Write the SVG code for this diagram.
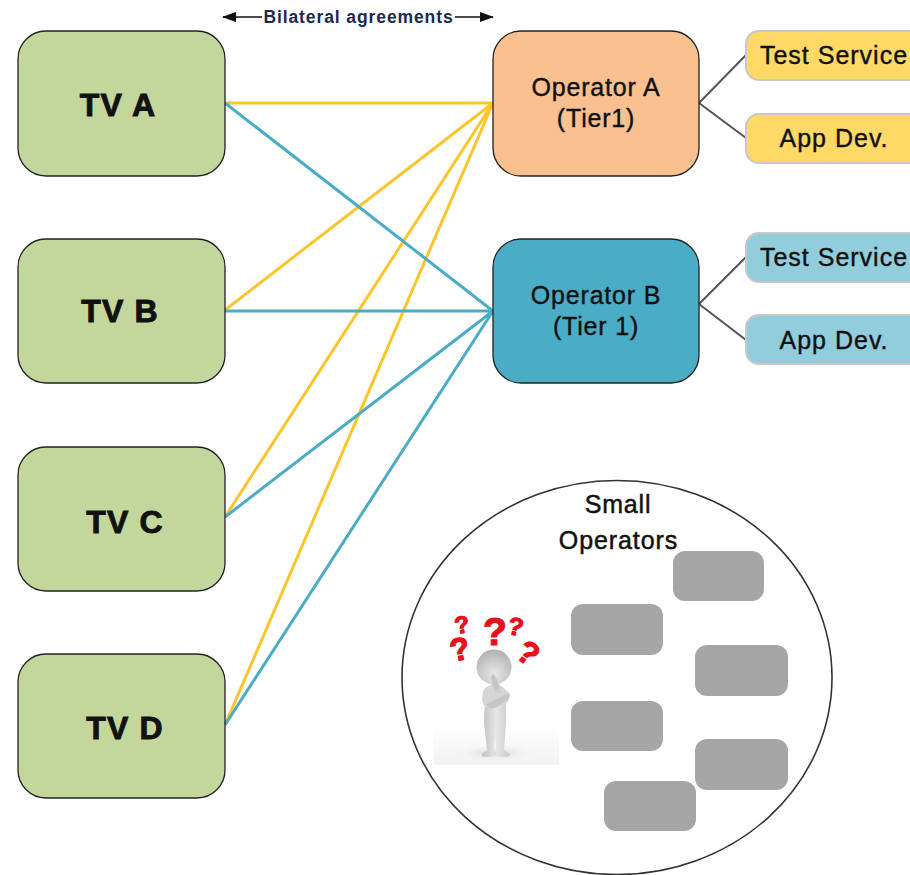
<svg xmlns="http://www.w3.org/2000/svg" width="910" height="875" viewBox="0 0 910 875">
<defs>
<marker id="ah" markerWidth="14" markerHeight="10" refX="13" refY="5" orient="auto" markerUnits="userSpaceOnUse"><path d="M0 0L14 5L0 10Z" fill="#111"/></marker>
<linearGradient id="floor" x1="0" y1="0" x2="0" y2="1"><stop offset="0" stop-color="#fff"/><stop offset="0.7" stop-color="#f6f6f6"/><stop offset="1" stop-color="#f2f2f2"/></linearGradient>
<radialGradient id="head" cx="0.5" cy="0.7" r="0.7"><stop offset="0" stop-color="#eaeaea"/><stop offset="1" stop-color="#b0b0b0"/></radialGradient>
<linearGradient id="body" x1="0" y1="0" x2="1" y2="0"><stop offset="0" stop-color="#c0c0c0"/><stop offset="0.5" stop-color="#e6e6e6"/><stop offset="1" stop-color="#c8c8c8"/></linearGradient>
<radialGradient id="shadow"><stop offset="0" stop-color="#d8d8d8"/><stop offset="1" stop-color="#f4f4f4" stop-opacity="0"/></radialGradient>
</defs>
<style>
text{font-family:"Liberation Sans",Arial,sans-serif;text-anchor:middle;fill:#111}
.tv rect{fill:#c3d69b;stroke:#222;stroke-width:1.3}
.tv text{font-size:32px;font-weight:bold;letter-spacing:1.2px;stroke:#111;stroke-width:.9}
.op rect{stroke:#222;stroke-width:1.3}
.op text{font-size:25px;letter-spacing:.8px;stroke:#111;stroke-width:.4}
.svc rect{stroke:#c8c8c8;stroke-width:2}
.svc text{font-size:25px;letter-spacing:1px;stroke:#111;stroke-width:.4}
.y{fill:#ffd966}.b{fill:#92cddc}
.gr{fill:#a6a6a6}
.so{font-size:25px;stroke:#111;stroke-width:.5}
.cy{stroke:#fdc52c;stroke-width:3;fill:none}
.cb{stroke:#4bacc6;stroke-width:3;fill:none}
.cg{stroke:#555;stroke-width:2;fill:none}
.q{font-weight:bold;fill:#e8101c;stroke:#e8101c;stroke-width:1.2}
</style>
<g id="connectors">
<path class="cy" d="M225 103H493M225 310L493 103M225 517L493 103M225 725L493 103"/>
<path class="cb" d="M225 103L493 311M225 311H493M225 517L493 311M225 725L493 311"/>
<path class="cg" d="M699 103L746 55M699 103L746 138M699 304L746 257M699 304L746 340"/>
<path d="M262 17H223" stroke="#111" stroke-width="1.5" fill="none" marker-end="url(#ah)"/>
<path d="M455 17H493" stroke="#111" stroke-width="1.5" fill="none" marker-end="url(#ah)"/>
</g>
<text id="bilateral" x="358.500" y="23" style="font-size:17.500px;font-weight:bold;letter-spacing:.9px;fill:#1a2a50">Bilateral agreements</text>
<g id="tv-a" class="tv"><rect x="18" y="31" width="207" height="145" rx="28"/><text x="118" y="116">TV A</text></g>
<g id="tv-b" class="tv"><rect x="18" y="239" width="207" height="144" rx="28"/><text x="120" y="322">TV B</text></g>
<g id="tv-c" class="tv"><rect x="18" y="447" width="207" height="144" rx="28"/><text x="125" y="533">TV C</text></g>
<g id="tv-d" class="tv"><rect x="18" y="654" width="207" height="144" rx="28"/><text x="125" y="739">TV D</text></g>
<g id="op-a" class="op"><rect x="493" y="31" width="206" height="145" rx="28" fill="#fac090"/><text x="596" y="96">Operator A</text><text x="596" y="127">(Tier1)</text></g>
<g id="op-b" class="op"><rect x="493" y="239" width="206" height="144" rx="28" fill="#4bacc6"/><text x="596" y="304">Operator B</text><text x="596" y="335">(Tier 1)</text></g>
<g id="svc-a1" class="svc"><rect x="746" y="31" width="180" height="49" rx="13" class="y"/><text x="834" y="64">Test Service</text></g>
<g id="svc-a2" class="svc"><rect x="746" y="114" width="180" height="49" rx="13" class="y"/><text x="834" y="147">App Dev.</text></g>
<g id="svc-b1" class="svc"><rect x="746" y="233" width="180" height="49" rx="13" class="b"/><text x="834" y="266">Test Service</text></g>
<g id="svc-b2" class="svc"><rect x="746" y="315" width="180" height="49" rx="13" class="b"/><text x="834" y="349">App Dev.</text></g>
<g id="small-operators">
<ellipse cx="617" cy="677.500" rx="215" ry="197" fill="#fff" stroke="#333" stroke-width="1.600"/>
<text class="so" x="618" y="513" style="letter-spacing:.8px">Small</text>
<text class="so" x="618.500" y="549" style="letter-spacing:.9px">Operators</text>
<rect class="gr" x="673" y="551" width="91" height="50" rx="12"/>
<rect class="gr" x="571" y="604" width="92" height="51" rx="12"/>
<rect class="gr" x="695" y="645" width="93" height="51" rx="12"/>
<rect class="gr" x="571" y="701" width="92" height="50" rx="12"/>
<rect class="gr" x="695" y="739" width="93" height="51" rx="12"/>
<rect class="gr" x="604" y="781" width="92" height="50" rx="12"/>
</g>
<g id="figure">
<rect x="434" y="725" width="125" height="40" fill="url(#floor)"/>
<ellipse cx="495" cy="753" rx="44" ry="9" fill="url(#shadow)"/>
<path d="M484 722L485 700H506L506 722L504 750L510 754Q510 757 503 757H498Q495 756 496 752L495 732L494 752Q494 756 491 757H485Q481 757 482 754L487 750Z" fill="url(#body)"/>
<path d="M487 708Q483 706 482 700L483 692Q485 686 492 685H499Q504 687 506 690L510 694L508 702L498 707Z" fill="#d6d6d6"/>
<path d="M486 704L505 695L509 693Q511 698 506 701L495 708Q488 709 486 704Z" fill="#c6c6c6"/>
<path d="M492 686L489 677L494 674L499 682L501 692L495 693Z" fill="#cfcfcf"/>
<circle cx="494" cy="667" r="17.500" fill="url(#head)"/>
<path d="M491 678L493 673L497 680L499 689L495 690Z" fill="#c4c4c4"/>
<text class="q" x="463" y="633" style="font-size:24px" transform="rotate(-8 463 633)">?</text>
<text class="q" x="462" y="660" style="font-size:32px" transform="rotate(-12 462 660)">?</text>
<text class="q" x="495" y="645" style="font-size:39px">?</text>
<text class="q" x="514" y="635" style="font-size:25px" transform="rotate(12 514 635)">?</text>
<text class="q" x="522" y="662" style="font-size:32px" transform="rotate(35 522 662)">?</text>
</g>
</svg>
